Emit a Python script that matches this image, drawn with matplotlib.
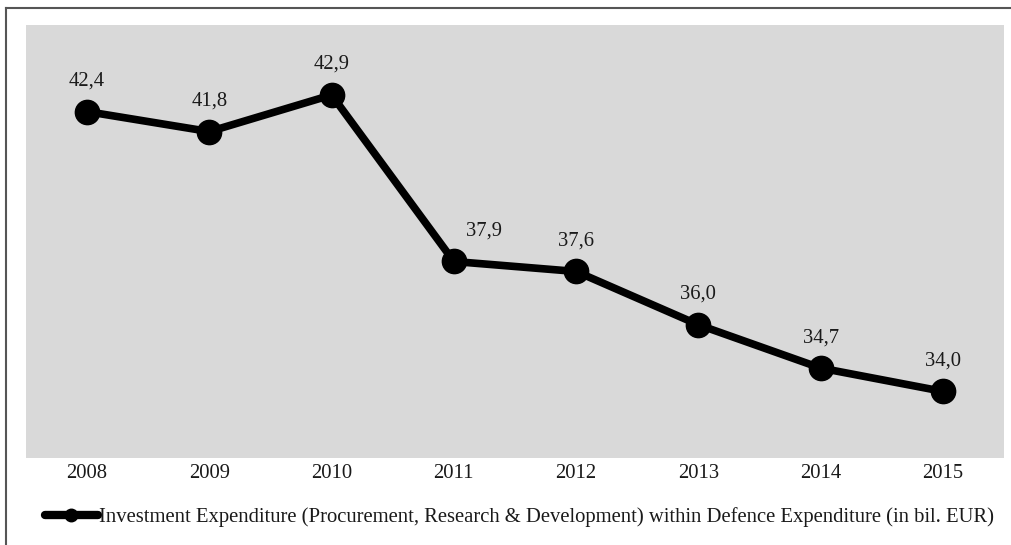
import matplotlib.pyplot as plt
from matplotlib.lines import Line2D

years = ["2008", "2009", "2010", "2011", "2012", "2013", "2014", "2015"]
values = [42.4, 41.8, 42.9, 37.9, 37.6, 36.0, 34.7, 34.0]
labels = ["42,4", "41,8", "42,9", "37,9", "37,6", "36,0", "34,7", "34,0"]
series_name = "Investment Expenditure (Procurement, Research & Development) within Defence Expenditure (in bil. EUR)"

plt.rcParams['font.family'] = ['Liberation Serif', 'DejaVu Serif']
fs = 14.9

W, H = 1012, 545
fig = plt.figure(figsize=(W / 100, H / 100), dpi=100)
ax = fig.add_axes([26 / W, (H - 458) / H, (1004 - 26) / W, (458 - 25) / H])
ax.set_facecolor('#d9d9d9')

x = list(range(len(years)))
ax.plot(x, values, color='black', linewidth=5.5, marker='o', markersize=17.5,
        label=series_name, solid_capstyle='round')

for i, (v, t) in enumerate(zip(values, labels)):
    dx = 30 if i == 3 else 0
    ax.annotate(t, (i, v), xytext=(dx, 21), textcoords='offset pixels',
                ha='center', va='bottom', fontsize=fs, color='#1a1a1a')

ax.set_xlim(-0.5, 7.5)
ax.set_ylim(32, 45)
ax.set_xticks(x)
ax.set_xticklabels(years, fontsize=fs, color='#1a1a1a')
ax.set_yticks([])
ax.tick_params(axis='x', length=0, pad=4)
for s in ax.spines.values():
    s.set_visible(False)

leg = fig.legend(loc='center left', bbox_to_anchor=(45 / W, (H - 517) / H),
                 frameon=False, fontsize=fs, handlelength=2.55,
                 handletextpad=0.05, borderaxespad=0, borderpad=0)
leg.legend_handles[0].set_markersize(9)
leg.legend_handles[0].set_linewidth(6)
for t in leg.get_texts():
    t.set_color('#1a1a1a')

# frame lines along the top and left edges
fig.add_artist(Line2D([6.5 / W, 1], [1 - 7.5 / H, 1 - 7.5 / H], transform=fig.transFigure,
                      color='#555555', linewidth=1.5))
fig.add_artist(Line2D([6.5 / W, 6.5 / W], [0, 1 - 7.5 / H], transform=fig.transFigure,
                      color='#555555', linewidth=1.5))

fig.savefig('out.png', dpi=100)
